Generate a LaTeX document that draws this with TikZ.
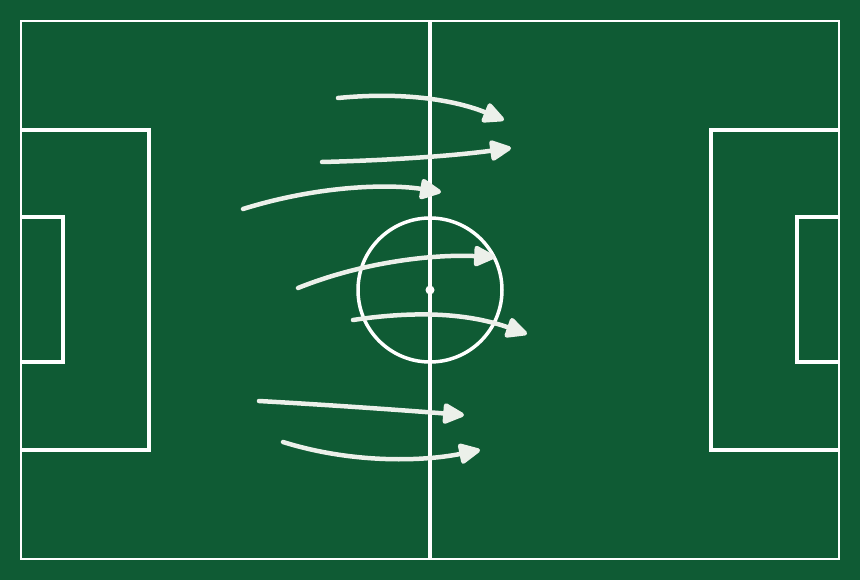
\documentclass[tikz,border=0pt]{standalone}
\usetikzlibrary{arrows.meta}
\definecolor{pitch}{RGB}{15,91,52}
\definecolor{chalk}{RGB}{236,240,234}
\tikzset{
  fieldline/.style={draw=white, line width=3.5pt},
  outline/.style={draw=white, line width=2.5pt},
  run/.style={draw=chalk, line width=4.5pt, line cap=round,
    -{Triangle[length=24pt,width=22pt,line join=round]}},
}
\begin{document}
\begin{tikzpicture}[x=1pt,y=-1pt]
\fill[pitch] (0,0) rectangle (860,580);
\useasboundingbox (0,0) rectangle (860,580);
% pitch
\draw[outline] (21,21) rectangle (839,559);
\draw[fieldline] (430,21) -- (430,559);
\node[circle, fieldline, minimum size=144pt, inner sep=0pt] (cc) at (430,290) {};
\node[circle, fill=white, minimum size=9pt, inner sep=0pt] (spot) at (430,290) {};
\draw[fieldline] (21,130) -- (149,130) -- (149,450) -- (21,450);
\draw[fieldline] (21,217) -- (63,217) -- (63,362) -- (21,362);
\draw[fieldline] (839,130) -- (711,130) -- (711,450) -- (839,450);
\draw[fieldline] (839,217) -- (797,217) -- (797,362) -- (839,362);
% runs
\coordinate (s1) at (338,98);  \coordinate (e1) at (504,120);
\coordinate (s2) at (322,162); \coordinate (e2) at (511,148);
\coordinate (s3) at (243,209); \coordinate (e3) at (441,192);
\coordinate (s4) at (298,288); \coordinate (e4) at (495,257);
\coordinate (s5) at (353,320); \coordinate (e5) at (527,334);
\coordinate (s6) at (259,401); \coordinate (e6) at (464,415);
\coordinate (s7) at (283,442); \coordinate (e7) at (480,450);
\draw[run] (s1) .. controls (410,91) and (460,102) .. (e1);
\draw[run] (s2) .. controls (400,160) and (460,155) .. (e2);
\draw[run] (s3) .. controls (320,185) and (390,184) .. (e3);
\draw[run] (s4) .. controls (360,263) and (430,254) .. (e4);
\draw[run] (s5) .. controls (420,310) and (470,314) .. (e5);
\draw[run] (s6) .. controls (330,405) and (400,410) .. (e6);
\draw[run] (s7) .. controls (350,463) and (420,462) .. (e7);
\end{tikzpicture}
\end{document}
